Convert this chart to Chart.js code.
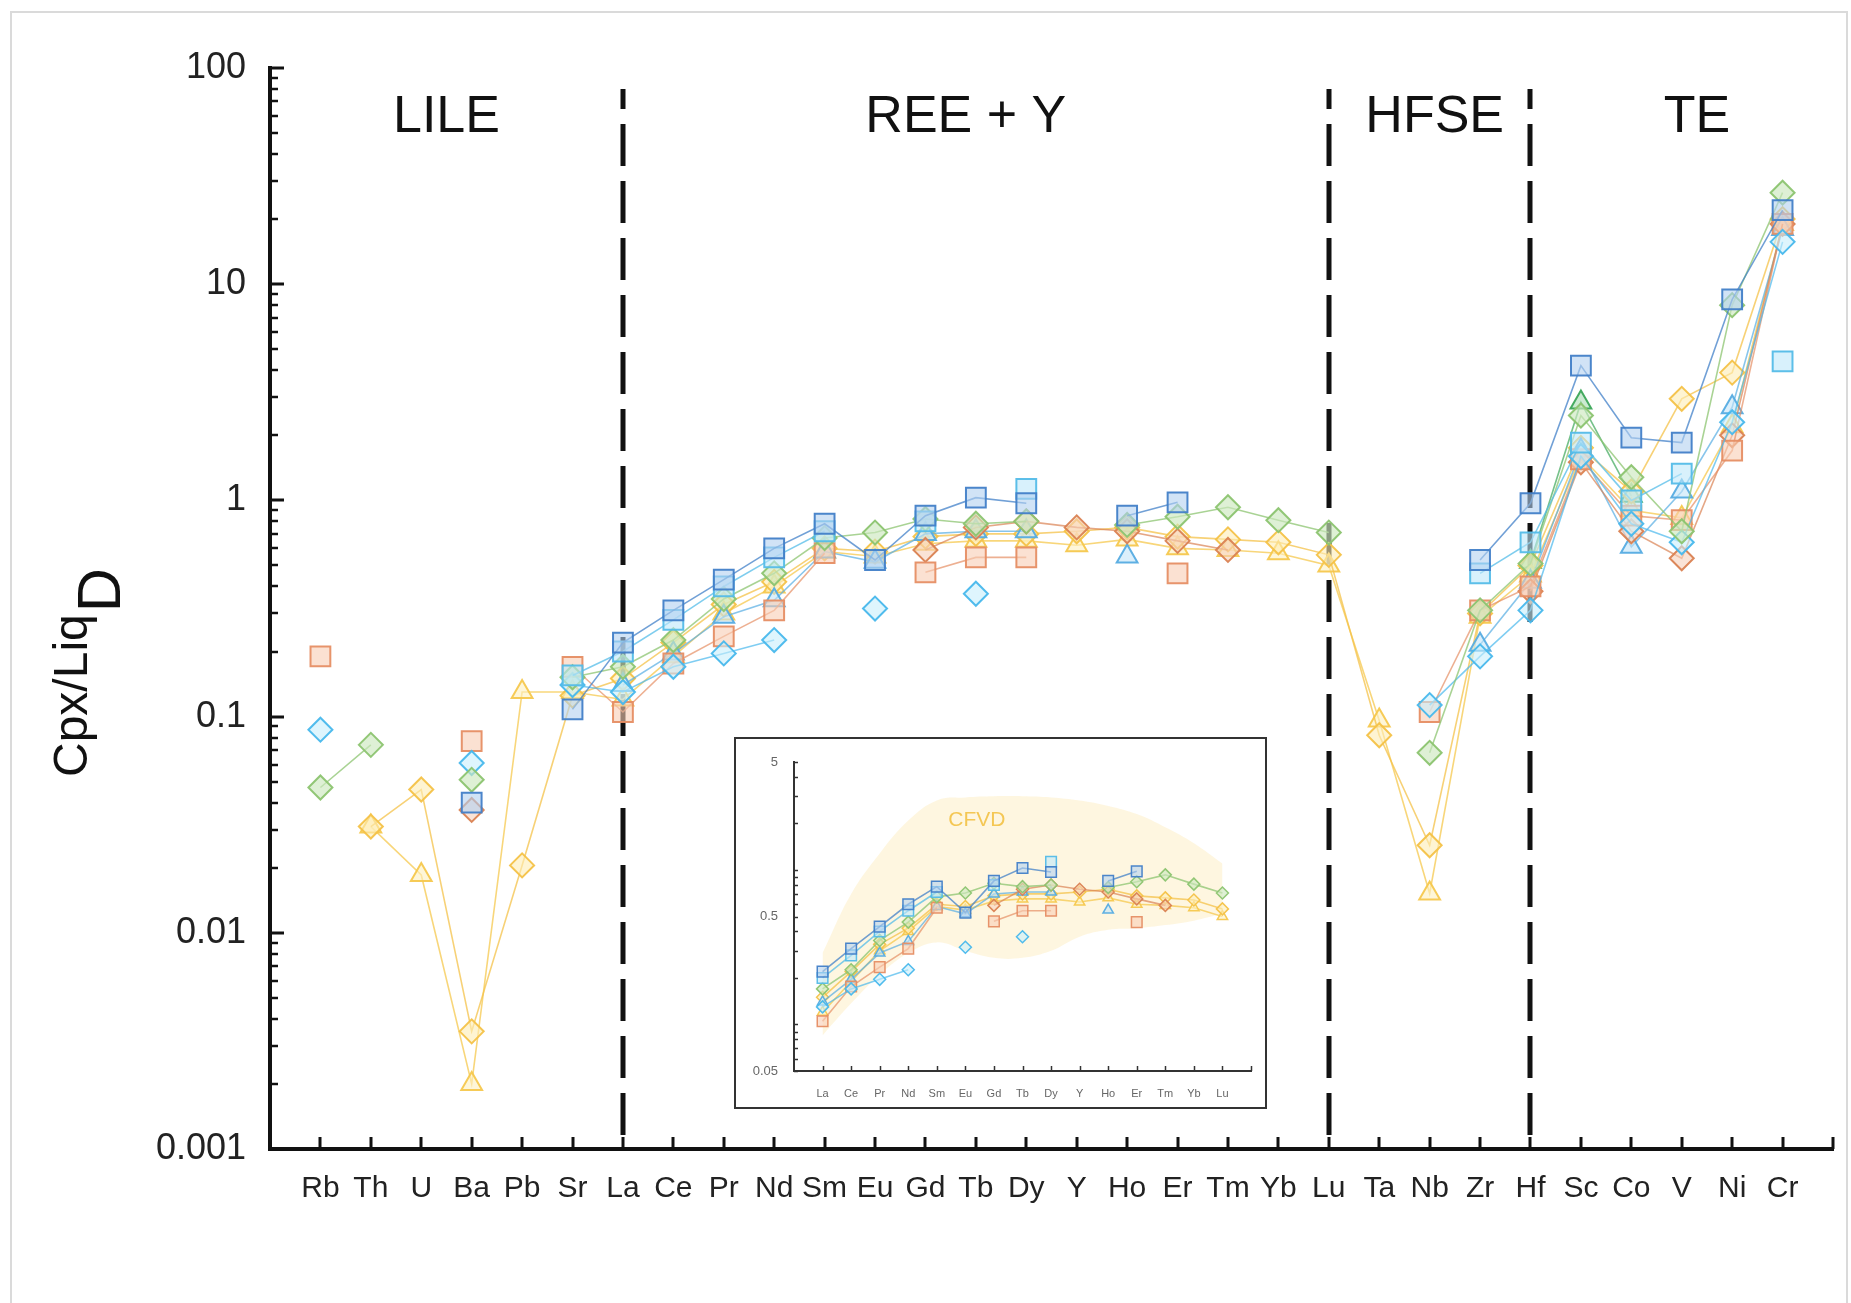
<!DOCTYPE html>
<html>
<head>
<meta charset="utf-8">
<title>Cpx/Liq partition coefficients</title>
<script src="https://cdn.jsdelivr.net/npm/chart.js@4.4.1/dist/chart.umd.min.js"></script>
<style>
  html, body { margin: 0; padding: 0; background: #fff; }
  #wrap { position: relative; width: 1851px; height: 1303px; }
  #mainChart { position: absolute; left: 0; top: 0; }
  #insetBox { position: absolute; left: 734px; top: 737px; width: 529px; height: 368px; border: 2px solid #333; background: #fff; }
  #insetChart { display: block; }
</style>
</head>
<body>
<div id="wrap">
  <canvas id="mainChart" width="1851" height="1303"></canvas>
  <div id="insetBox"><canvas id="insetChart" width="529" height="368"></canvas></div>
</div>
<script>
// elements along the x axis
const categories = ["Rb", "Th", "U", "Ba", "Pb", "Sr", "La", "Ce", "Pr", "Nd", "Sm", "Eu", "Gd", "Tb", "Dy",
  "Y", "Ho", "Er", "Tm", "Yb", "Lu", "Ta", "Nb", "Zr", "Hf", "Sc", "Co", "V", "Ni", "Cr"];
const groupNames = ["LILE", "REE + Y", "HFSE", "TE"];
const groupCenters = [2.5, 12.8, 22.1, 27.3];
const dividers = [6, 20, 24];
const yTickLabels = ["0.001", "0.01", "0.1", "1", "10", "100"];
const insetTickLabels = ["0.05", "0.5", "5"];
const reeStart = 6; // La
const reeEnd = 20;  // Lu

// D values per experiment (null = not measured)
//                  Rb    Th     U      Ba     Pb     Sr     La    Ce    Pr    Nd    Sm    Eu    Gd    Tb    Dy    Y     Ho    Er    Tm    Yb    Lu    Ta     Nb     Zr    Hf    Sc   Co    V     Ni   Cr
const blueSquare = [null, null, null, 0.040, null, 0.108, 0.22, 0.31, 0.43, 0.60, 0.78, 0.53, 0.85, 1.03, 0.97, null, 0.85, 0.98, null, null, null, null, null, 0.53, 0.97, 4.2, 1.95, 1.85, 8.5, 22];
const cyanSquare = [null, null, null, null, null, 0.155, 0.20, 0.28, 0.40, 0.545, 0.72, null, 0.80, null, 1.13, null, null, null, null, null, null, null, null, 0.46, 0.64, 1.85, 1.0, 1.33, null, 4.4];
const greenDiamond = [0.047, 0.074, null, 0.051, null, 0.152, 0.17, 0.226, 0.35, 0.46, 0.67, 0.71, 0.82, 0.78, 0.80, null, 0.77, 0.84, 0.93, 0.81, 0.71, null, 0.068, 0.31, 0.51, 2.47, 1.28, 0.72, 8.0, 26.5];
const cyanDiamond = [0.087, null, null, 0.061, null, 0.14, 0.13, 0.17, 0.196, 0.226, null, 0.316, null, 0.37, null, null, null, null, null, null, null, null, 0.113, 0.19, 0.31, 1.6, 0.78, 0.64, 2.3, 15.7];
const orangeSquare = [0.19, null, null, 0.077, null, 0.17, 0.105, 0.176, 0.235, 0.31, 0.57, null, 0.465, 0.545, 0.545, null, null, 0.46, null, null, null, null, 0.105, 0.31, 0.40, 1.55, 0.85, 0.81, 1.7, 19];
const orangeDiamond = [null, null, null, 0.037, null, null, null, null, null, null, null, null, 0.59, 0.75, 0.80, 0.75, 0.72, 0.65, 0.59, null, null, null, null, null, 0.38, 1.5, 0.72, 0.54, 2.0, 19];
const blueTriangle = [null, null, null, null, null, null, 0.14, 0.196, 0.29, 0.345, 0.58, 0.52, 0.70, 0.72, 0.72, null, 0.55, null, null, null, null, null, null, 0.215, 0.42, 1.7, 0.61, 1.1, 2.7, 18];
const yellowDiamond = [null, 0.031, 0.046, 0.0035, 0.0205, 0.125, 0.15, 0.22, 0.33, 0.42, 0.60, 0.58, 0.68, 0.70, 0.70, 0.72, 0.75, 0.68, 0.66, 0.64, 0.56, 0.082, 0.0254, 0.30, 0.50, 1.75, 1.1, 2.95, 3.9, 20];
const yellowTriangle = [null, 0.031, 0.0185, 0.002, 0.13, 0.13, 0.12, 0.19, 0.30, 0.40, 0.58, 0.55, 0.63, 0.65, 0.65, 0.62, 0.66, 0.60, 0.59, 0.57, 0.50, 0.096, 0.0152, 0.29, 0.45, 1.6, 0.9, 0.83, 2.2, 19];
const greenTriangle = [null, null, null, null, null, null, null, null, null, null, null, null, null, null, null, null, null, null, null, null, null, null, null, null, 0.52, 2.84, 1.05, null, null, null];

// CFVD field in the inset, La..Lu
const cfvdUpper = [0.29, 0.70, 1.28, 2.09, 2.82, 2.95, 3.0, 3.0, 2.95, 2.82, 2.6, 2.3, 1.89, 1.49, 1.10];
const cfvdLower = [0.085, 0.137, 0.21, 0.29, 0.34, 0.30, 0.27, 0.27, 0.30, 0.37, 0.41, 0.42, 0.44, 0.47, 0.52];

// first entry is drawn on top
const series = [
  { values: blueSquare, shape: "rect", stroke: "rgba(66,128,200,0.95)", fill: "rgba(178,208,240,0.6)", line: "rgba(66,128,200,0.75)" },
  { values: cyanSquare, shape: "rect", stroke: "rgba(84,188,232,0.95)", fill: "rgba(190,232,250,0.6)", line: "rgba(84,188,232,0.75)" },
  { values: greenDiamond, shape: "rectRot", stroke: "rgba(140,196,112,0.95)", fill: "rgba(205,232,190,0.65)", line: "rgba(140,196,112,0.75)" },
  { values: cyanDiamond, shape: "rectRot", stroke: "rgba(72,184,236,0.95)", fill: "rgba(200,238,252,0.6)", line: "rgba(72,184,236,0.7)" },
  { values: orangeSquare, shape: "rect", stroke: "rgba(230,142,100,0.95)", fill: "rgba(248,205,180,0.6)", line: "rgba(230,142,100,0.7)" },
  { values: orangeDiamond, shape: "rectRot", stroke: "rgba(218,130,82,0.95)", fill: "rgba(246,208,186,0.6)", line: "rgba(218,130,82,0.7)" },
  { values: blueTriangle, shape: "triangle", stroke: "rgba(86,172,226,0.95)", fill: "rgba(195,228,248,0.6)", line: "rgba(86,172,226,0.7)" },
  { values: yellowDiamond, shape: "rectRot", stroke: "rgba(244,194,72,0.95)", fill: "rgba(253,236,180,0.6)", line: "rgba(244,194,72,0.75)" },
  { values: yellowTriangle, shape: "triangle", stroke: "rgba(246,200,78,0.95)", fill: "rgba(254,240,190,0.6)", line: "rgba(246,200,78,0.75)" },
  { values: greenTriangle, shape: "triangle", stroke: "rgba(60,166,88,0.95)", fill: "rgba(170,220,180,0.6)", line: "rgba(60,166,88,0.7)" },
];

Chart.defaults.font.family = '"Liberation Sans", Arial, sans-serif';

function toPoints(values) {
  return values.map((v, i) => ({ x: i, y: v }));
}

const FONT = '"Liberation Sans", Arial, sans-serif';

// inward ticks, dashed dividers, group names, y title, frame
const mainDecor = {
  id: "mainDecor",
  beforeDatasetsDraw(chart) {
    const { ctx, scales: { x, y } } = chart;
    ctx.save();
    ctx.strokeStyle = "#111";
    ctx.lineWidth = 5;
    ctx.setLineDash([42, 15]);
    ctx.lineDashOffset = 22;
    const top = y.getPixelForValue(80);
    dividers.forEach((i) => {
      const px = Math.round(x.getPixelForValue(i));
      ctx.beginPath();
      ctx.moveTo(px, top);
      ctx.lineTo(px, y.bottom);
      ctx.stroke();
    });
    ctx.restore();

    ctx.save();
    ctx.fillStyle = "#111";
    ctx.font = "52px " + FONT;
    ctx.textAlign = "center";
    ctx.textBaseline = "middle";
    groupNames.forEach((g, k) => {
      ctx.fillText(g, x.getPixelForValue(groupCenters[k]), y.getPixelForValue(59));
    });
    ctx.restore();
  },
  afterDraw(chart) {
    const { ctx, scales: { x, y } } = chart;
    ctx.save();
    ctx.strokeStyle = "#111";
    // x ticks pointing up
    ctx.lineWidth = 3;
    for (let i = 0; i <= categories.length; i++) {
      const px = Math.round(x.getPixelForValue(i));
      ctx.beginPath();
      ctx.moveTo(px, y.bottom);
      ctx.lineTo(px, y.bottom - 12);
      ctx.stroke();
    }
    // y ticks pointing right
    for (let e = -3; e <= 2; e++) {
      for (let m = 1; m <= 9; m++) {
        const v = m * Math.pow(10, e);
        if (v > 100.0001) break;
        const py = Math.round(y.getPixelForValue(v));
        ctx.lineWidth = m === 1 ? 3 : 2.5;
        ctx.beginPath();
        ctx.moveTo(x.left, py);
        ctx.lineTo(x.left + (m === 1 ? 14 : 8), py);
        ctx.stroke();
      }
    }
    ctx.restore();

    // y title: Cpx/Liq D, rotated
    ctx.save();
    ctx.fillStyle = "#111";
    ctx.translate(87, 777);
    ctx.rotate(-Math.PI / 2);
    ctx.textBaseline = "alphabetic";
    ctx.textAlign = "left";
    ctx.font = "48px " + FONT;
    ctx.fillText("Cpx/Liq", 0, 0);
    const w = ctx.measureText("Cpx/Liq").width;
    ctx.font = "61px " + FONT;
    ctx.fillText("D", w + 2, 33);
    ctx.restore();

    // light frame around the figure
    ctx.save();
    ctx.strokeStyle = "#dadada";
    ctx.lineWidth = 2;
    ctx.strokeRect(11, 12, 1836, 1300);
    ctx.restore();
  },
};

new Chart(document.getElementById("mainChart"), {
  type: "line",
  data: {
    datasets: series.map((s) => ({
      data: toPoints(s.values),
      pointStyle: s.shape,
      pointRadius: s.shape === "rect" ? 14 : 12,
      pointBorderWidth: 2,
      pointBackgroundColor: s.fill,
      pointBorderColor: s.stroke,
      borderColor: s.line,
      borderWidth: 1.6,
      tension: 0,
      fill: false,
      spanGaps: false,
    })),
  },
  options: {
    responsive: false,
    animation: false,
    events: [],
    layout: { padding: { left: 0, top: 68, right: 18, bottom: 0 } },
    plugins: { legend: { display: false }, tooltip: { enabled: false } },
    scales: {
      x: {
        type: "linear",
        min: -1,
        max: categories.length,
        afterBuildTicks: (s) => { s.ticks = categories.map((c, i) => ({ value: i })); },
        afterFit: (s) => { s.height = 154; },
        ticks: {
          autoSkip: false,
          maxRotation: 0,
          minRotation: 0,
          padding: 14,
          color: "#222",
          font: { size: 30 },
          callback: (v) => categories[v] ?? "",
        },
        grid: { display: false },
        border: { display: true, color: "#111", width: 4 },
      },
      y: {
        type: "logarithmic",
        min: 0.001,
        max: 100,
        afterBuildTicks: (s) => { s.ticks = yTickLabels.map((t) => ({ value: Number(t) })); },
        afterFit: (s) => { s.width = 270; },
        ticks: {
          autoSkip: false,
          padding: 16,
          color: "#222",
          font: { size: 36 },
          callback: (v, i) => yTickLabels[i],
        },
        grid: { display: false },
        border: { display: true, color: "#111", width: 4 },
      },
    },
  },
  plugins: [mainDecor],
});

// ---- inset: REE + Y only ----
const reeCats = categories.slice(reeStart, reeEnd + 1);

const insetDecor = {
  id: "insetDecor",
  afterDraw(chart) {
    const { ctx, scales: { x, y } } = chart;
    ctx.save();
    ctx.strokeStyle = "#333";
    ctx.lineWidth = 1.5;
    for (let i = 0; i <= reeCats.length; i++) {
      const px = Math.round(x.getPixelForValue(i)) + 0.5;
      ctx.beginPath();
      ctx.moveTo(px, y.bottom);
      ctx.lineTo(px, y.bottom - 5);
      ctx.stroke();
    }
    for (let e = -2; e <= 0; e++) {
      for (let m = 1; m <= 9; m++) {
        const val = m * Math.pow(10, e);
        if (val < 0.05 - 1e-9 || val > 5 + 1e-9) continue;
        const py = Math.round(y.getPixelForValue(val)) + 0.5;
        ctx.beginPath();
        ctx.moveTo(x.left, py);
        ctx.lineTo(x.left + 4, py);
        ctx.stroke();
      }
    }
    ctx.restore();

    ctx.save();
    ctx.fillStyle = "rgba(242,190,60,0.85)";
    ctx.font = "21px " + FONT;
    ctx.textAlign = "center";
    ctx.textBaseline = "middle";
    ctx.fillText("CFVD", x.getPixelForValue(5.4), y.getPixelForValue(2.1));
    ctx.restore();
  },
};

const insetSets = series.map((s) => ({
  data: toPoints(s.values.slice(reeStart, reeEnd + 1)),
  pointStyle: s.shape,
  pointRadius: s.shape === "rect" ? 7.5 : 6,
  pointBorderWidth: 1.5,
  pointBackgroundColor: s.fill,
  pointBorderColor: s.stroke,
  borderColor: s.line,
  borderWidth: 1.6,
  tension: 0,
  fill: false,
}));
insetSets.push({
  data: toPoints(cfvdUpper),
  pointRadius: 0,
  borderWidth: 0,
  borderColor: "transparent",
  backgroundColor: "rgba(253,228,160,0.32)",
  fill: "+1",
  tension: 0.4,
});
insetSets.push({
  data: toPoints(cfvdLower),
  pointRadius: 0,
  borderWidth: 0,
  borderColor: "transparent",
  fill: false,
  tension: 0.4,
});

new Chart(document.getElementById("insetChart"), {
  type: "line",
  data: { datasets: insetSets },
  options: {
    responsive: false,
    animation: false,
    events: [],
    layout: { padding: { left: 0, top: 23, right: 14, bottom: 0 } },
    plugins: { legend: { display: false }, tooltip: { enabled: false } },
    scales: {
      x: {
        type: "linear",
        min: -1,
        max: reeCats.length,
        afterBuildTicks: (s) => { s.ticks = reeCats.map((c, i) => ({ value: i })); },
        afterFit: (s) => { s.height = 36; },
        ticks: {
          autoSkip: false,
          maxRotation: 0,
          minRotation: 0,
          padding: 8,
          color: "#666",
          font: { size: 11 },
          callback: (v) => reeCats[v] ?? "",
        },
        grid: { display: false },
        border: { display: true, color: "#333", width: 2 },
      },
      y: {
        type: "logarithmic",
        min: 0.05,
        max: 5,
        afterBuildTicks: (s) => { s.ticks = insetTickLabels.map((t) => ({ value: Number(t) })); },
        afterFit: (s) => { s.width = 58; },
        ticks: {
          autoSkip: false,
          padding: 8,
          color: "#666",
          font: { size: 13 },
          callback: (v, i) => insetTickLabels[i],
        },
        grid: { display: false },
        border: { display: true, color: "#333", width: 2 },
      },
    },
  },
  plugins: [insetDecor],
});
</script>
</body>
</html>
